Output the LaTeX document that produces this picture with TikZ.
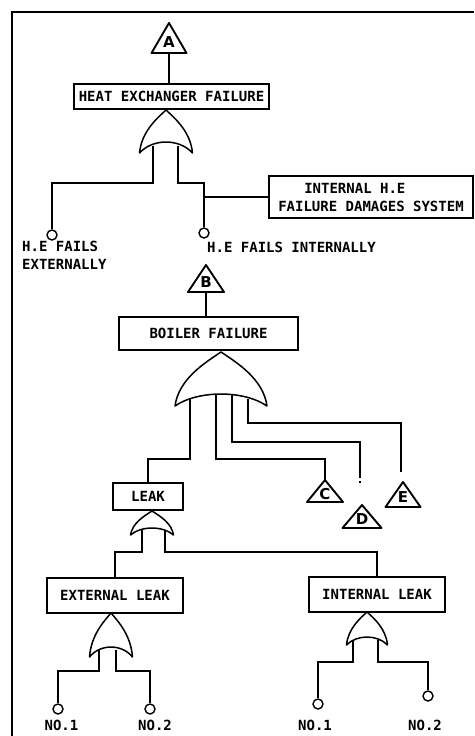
\documentclass[tikz,border=0pt]{standalone}
\usepackage{fontspec}
\newfontfamily\lblfont{DejaVu Sans Mono}
\newfontfamily\trifont{DejaVu Sans}
\newcommand{\orgate}[6]{% name cx ty w by d
 \draw[gate] ({#2-#4},#5) .. controls ({#2-0.92*#4},{#5-0.5*(#5-#3)}) and ({#2-0.35*#4},{#3+0.2*(#5-#3)}) .. (#2,#3)
   .. controls ({#2+0.35*#4},{#3+0.2*(#5-#3)}) and ({#2+0.92*#4},{#5-0.5*(#5-#3)}) .. ({#2+#4},#5)
   .. controls ({#2+0.5*#4},{#5-1.33*#6}) and ({#2-0.5*#4},{#5-1.33*#6}) .. cycle;
 \coordinate (#1) at (#2,{#5-#6});}
\newcommand{\xfer}[6]{% name ax ay hw by letter
 \draw[tri] (#2,#3) -- ({#2+#4},#5) -- ({#2-#4},#5) -- cycle;
 \node[trilbl] (#1) at (#2,{#5-0.38*(#5-#3)}) {#6};
 \coordinate (#1-top) at (#2,#3);
 \coordinate (#1-bot) at (#2,#5);}
\tikzset{
 conn/.style={line width=1.2pt},
 gate/.style={line width=1.5pt, line join=round},
 tri/.style={line width=1.9pt, line join=round},
 trilbl/.style={inner sep=0pt, font=\trifont\bfseries\fontsize{15}{15}\selectfont},
 evbox/.style={draw, line width=1.2pt, inner sep=0pt, font=\lblfont\bfseries\fontsize{14}{18}\selectfont},
 basic/.style={draw, circle, line width=1.4pt, minimum size=10pt, inner sep=0pt},
 lbl/.style={inner sep=0pt, font=\lblfont\bfseries\fontsize{14}{18}\selectfont},
}
\begin{document}
\begin{tikzpicture}[x=1pt,y=-1pt]
\useasboundingbox (0,0) rectangle (474,736);
% frame
\draw[line width=1.5pt] (12,736) -- (12,12) -- (474,12);

% top part
\xfer{tA}{169}{23}{17.5}{53}{A}
\node[evbox, minimum width=195pt, minimum height=25pt] (heat) at (171.5,96.5) {HEAT EXCHANGER FAILURE};
\draw[conn] (tA-bot) -- (tA-bot |- heat.north);
\orgate{g1}{166}{110}{26.5}{153}{11}
\coordinate (g1a) at (153,146);
\coordinate (g1b) at (178,146);
\node[basic] (he1) at (52,235) {};
\node[basic] (he2) at (204,233) {};
\draw[conn] (g1a) -- ++(0,37) -| (he1.north);
\draw[conn] (g1b) -- ++(0,37) -| (he2.north);
\node[evbox, minimum width=204pt, minimum height=42pt, align=left] (ihe) at (371,197) {\hspace*{26pt}INTERNAL H.E\\FAILURE DAMAGES SYSTEM};
\draw[conn] (ihe.west) -- (ihe.west -| he2);
\node[lbl, anchor=north west, align=left] (lhe1) at (22,241) {H.E FAILS\\EXTERNALLY};
\node[lbl, anchor=west] (lhe2) at (207,247) {H.E FAILS INTERNALLY};

% boiler part
\xfer{tB}{206}{265}{18}{292}{B}
\node[evbox, minimum width=179pt, minimum height=33pt] (boiler) at (208.5,333.5) {BOILER FAILURE};
\draw[conn] (tB-bot) -- (tB-bot |- boiler.north);
\orgate{g2}{221}{352}{46}{406}{12}
\coordinate (g2a) at (190,399);
\coordinate (g2b) at (216,395);
\coordinate (g2c) at (232,395);
\coordinate (g2d) at (248,399);
\node[evbox, minimum width=70pt, minimum height=27pt] (leak) at (148,496.5) {LEAK};
\xfer{tC}{325}{480}{18}{502}{C}
\xfer{tD}{362}{505}{19.5}{528}{D}
\xfer{tE}{403}{482}{17.5}{507}{E}
\coordinate (dgap) at (360,476);
\coordinate (dend) at (360,486);
\coordinate (eend) at (401,472);
\draw[conn] (g2a) -- ++(0,60) -| (leak.north);
\draw[conn] (g2b) -- ++(0,64) -| (tC-top);
\draw[conn] (g2c) -- ++(0,47) -| (dgap);
\draw[conn, dash pattern=on 2pt off 3pt] (dgap) -- (dend);
\draw[conn] (g2d) -- ++(0,24) -| (eend);

% leak part
\orgate{g3}{152}{511}{21.5}{535}{7}
\coordinate (g3a) at (142,530);
\coordinate (g3b) at (165,530);
\node[evbox, minimum width=136pt, minimum height=35pt] (extleak) at (115,595.5) {EXTERNAL LEAK};
\node[evbox, minimum width=136pt, minimum height=35pt] (intleak) at (377,594.5) {INTERNAL LEAK};
\draw[conn] (g3a) -- ++(0,22) -| (extleak.north);
\draw[conn] (g3b) -- ++(0,22) -| (intleak.north);

\orgate{g4}{111}{613}{21.5}{657}{10}
\coordinate (g4a) at (99,650);
\coordinate (g4b) at (116,650);
\node[basic] (e1) at (58,709) {};
\node[basic] (e2) at (150,709) {};
\draw[conn] (g4a) -- ++(0,21) -| (e1.north);
\draw[conn] (g4b) -- ++(0,21) -| (e2.north);

\orgate{g5}{367}{612}{20.5}{645}{8}
\coordinate (g5a) at (353,640);
\coordinate (g5b) at (378,640);
\node[basic] (i1) at (318,704) {};
\node[basic] (i2) at (428,696) {};
\draw[conn] (g5a) -- ++(0,22) -| (i1.north);
\draw[conn] (g5b) -- ++(0,22) -| (i2.north);

\node[lbl] (n1) at (61.5,725) {NO.1};
\node[lbl] (n2) at (155,725) {NO.2};
\node[lbl] (n3) at (315,725) {NO.1};
\node[lbl] (n4) at (425,725) {NO.2};
\end{tikzpicture}
\end{document}
